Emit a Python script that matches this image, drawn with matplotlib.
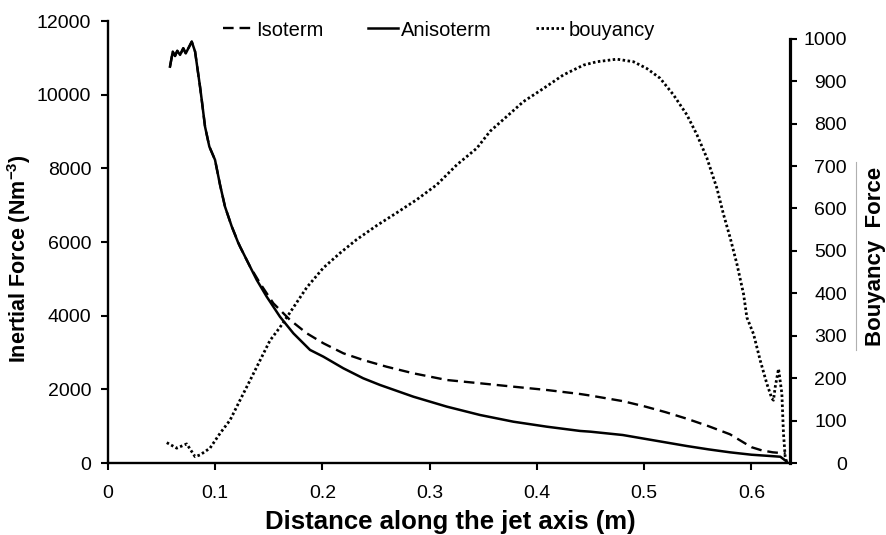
import matplotlib
matplotlib.use("Agg")
import matplotlib.pyplot as plt
from matplotlib.lines import Line2D

plt.rcParams['font.family'] = ['Liberation Sans', 'DejaVu Sans']
plt.rcParams['mathtext.fontset'] = 'custom'
plt.rcParams['mathtext.rm'] = 'Liberation Sans'
plt.rcParams['mathtext.bf'] = 'Liberation Sans:bold'
plt.rcParams['mathtext.default'] = 'bf'

# Anisoterm (inertial force, left axis)
aniso_x = [0.0578, 0.0604, 0.0625, 0.0646, 0.0672, 0.0702, 0.0725, 0.0781, 0.0812,
           0.0858, 0.0874, 0.0905, 0.0945, 0.0998, 0.1045, 0.1091, 0.1154, 0.1216,
           0.1294, 0.1387, 0.1480, 0.1604, 0.1729, 0.1884, 0.2009, 0.2195, 0.2380,
           0.2537, 0.2848, 0.3160, 0.3470, 0.3781, 0.4092, 0.4403, 0.4500, 0.4800,
           0.5000, 0.5200, 0.5400, 0.5600, 0.5800, 0.6000, 0.6200, 0.6270, 0.6320,
           0.6340]
aniso_y = [10760, 11170, 11050, 11190, 11080, 11260, 11120, 11440, 11170,
           10220, 9860, 9130, 8590, 8230, 7550, 6960, 6420, 5965,
           5510, 4970, 4515, 3970, 3520, 3070, 2886, 2571, 2300,
           2118, 1800, 1530, 1303, 1121, 986, 870, 850, 760,
           660, 560, 460, 370, 290, 225, 185, 170, 60,
           0]

# Isoterm (inertial force, left axis)
iso_x = [0.0578, 0.0604, 0.0625, 0.0646, 0.0672, 0.0702, 0.0725, 0.0781, 0.0812,
         0.0858, 0.0874, 0.0905, 0.0945, 0.0998, 0.1045, 0.1091, 0.1154, 0.1231,
         0.1325, 0.1418, 0.1542, 0.1698, 0.1854, 0.2009, 0.2195, 0.2380, 0.2597,
         0.2848, 0.3160, 0.3470, 0.3781, 0.4092, 0.4403, 0.4500, 0.4800, 0.5000,
         0.5200, 0.5400, 0.5600, 0.5800, 0.6000, 0.6100, 0.6200, 0.6320]
iso_y = [10760, 11170, 11050, 11190, 11080, 11260, 11120, 11440, 11170,
         10220, 9860, 9130, 8590, 8230, 7550, 6960, 6420, 5873,
         5330, 4879, 4336, 3883, 3521, 3250, 2978, 2796, 2615,
         2435, 2253, 2164, 2072, 1982, 1873, 1830, 1680, 1540,
         1380, 1200, 1000, 780, 430, 340, 290, 260]

# bouyancy (right axis)
bouy_x = [0.0548, 0.0641, 0.0734, 0.0812, 0.0858, 0.0951, 0.1045, 0.1138, 0.1231,
          0.1325, 0.1418, 0.1511, 0.1604, 0.1698, 0.1854, 0.2008, 0.2164, 0.2320,
          0.2507, 0.2693, 0.2880, 0.3066, 0.3253, 0.3439, 0.3563, 0.3719, 0.3874,
          0.4061, 0.4247, 0.4434, 0.4559, 0.4745, 0.4900, 0.5025, 0.5149, 0.5273,
          0.5398, 0.5492, 0.5585, 0.5678, 0.5740, 0.5802, 0.5865, 0.5927, 0.5958,
          0.6020, 0.6082, 0.6144, 0.6191, 0.6206, 0.6222, 0.6253, 0.6284, 0.6299,
          0.6315, 0.6331]
bouy_y = [48, 35, 45, 15, 19, 35, 70, 101, 148,
          195, 242, 289, 320, 355, 414, 460, 495, 527,
          560, 590, 621, 656, 703, 742, 782, 817, 852,
          883, 915, 938, 946, 952, 946, 930, 907, 868,
          821, 774, 719, 648, 586, 531, 469, 398, 343,
          304, 242, 187, 152, 148, 179, 222, 164, 70,
          15, 0]

x_ticks = [0, 0.1, 0.2, 0.3, 0.4, 0.5, 0.6]
x_tick_labels = ["0", "0.1", "0.2", "0.3", "0.4", "0.5", "0.6"]
left_ticks = [0, 2000, 4000, 6000, 8000, 10000, 12000]
right_ticks = [0, 100, 200, 300, 400, 500, 600, 700, 800, 900, 1000]


def main():
    fig = plt.figure(figsize=(8.87, 5.35), dpi=100)
    ax = fig.add_axes([108 / 887, 1 - 463 / 535, (790 - 108) / 887, (463 - 21) / 535])
    ax2 = ax.twinx()

    l1 = ax.plot(iso_x, iso_y, color='black', lw=1.7, label="Isoterm")
    l1[0].set_dashes((4.5, 2.5))
    l2 = ax.plot(aniso_x, aniso_y, color='black', lw=1.8, label="Anisoterm")
    l3 = ax2.plot(bouy_x, bouy_y, color='black', lw=2.0,
                  linestyle=(0, (0.9, 0.9)), label="bouyancy")

    ax.set_xlim(0, 0.636)
    ax.set_ylim(0, 12000)
    ax2.set_ylim(0, 1042)

    ax.set_xticks(x_ticks)
    ax.set_xticklabels(x_tick_labels)
    ax.set_yticks(left_ticks)
    ax2.set_yticks(right_ticks)

    for a in [ax, ax2]:
        a.spines['top'].set_visible(False)
        for s in a.spines.values():
            s.set_linewidth(1.7)
    ax.spines['right'].set_visible(False)
    ax2.spines['left'].set_visible(False)
    ax2.spines['bottom'].set_visible(False)
    ax2.spines['right'].set_linewidth(2.3)
    ax2.spines['right'].set_bounds(0, 1000)

    ax.tick_params(axis='both', direction='out', length=5, width=1.5,
                   labelsize=14, colors='black')
    ax.tick_params(axis='x', pad=11)
    ax.tick_params(axis='y', pad=7)
    ax2.tick_params(axis='y', direction='out', length=5, width=1.5,
                    labelsize=14, pad=36)
    for lab in ax2.get_yticklabels():
        lab.set_horizontalalignment('right')

    ax.set_xlabel("Distance along the jet axis (m)", fontsize=18.5,
                  fontweight='bold', va='center')
    ax.xaxis.set_label_coords(450 / 887, 1 - 522 / 535, transform=fig.transFigure)
    ax.set_ylabel("Inertial Force (Nm$^{-3}$)", fontsize=15.5,
                  fontweight='bold', va='center')
    ax.yaxis.set_label_coords(19 / 887, 1 - 259 / 535, transform=fig.transFigure)
    fig.text(876 / 887, 1 - 256 / 535, "Bouyancy  Force", rotation=90,
             fontsize=16, fontweight='bold', ha='center', va='center')
    # thin grey rule next to the right label
    fig.add_artist(Line2D([856 / 887, 856 / 887], [1 - 162 / 535, 1 - 350 / 535],
                          color='#b0b0b0', lw=0.8))

    lns = l1 + l2 + l3
    labs = [l.get_label() for l in lns]
    fig.legend(lns, labs, loc='center', bbox_to_anchor=(439 / 887, 1 - 30 / 535),
               ncol=3, frameon=False, fontsize=14.5, handlelength=1.5,
               handletextpad=0.15, columnspacing=2.2, borderaxespad=0)

    fig.savefig("out.png", dpi=100)
    plt.close()


if __name__ == "__main__":
    main()
